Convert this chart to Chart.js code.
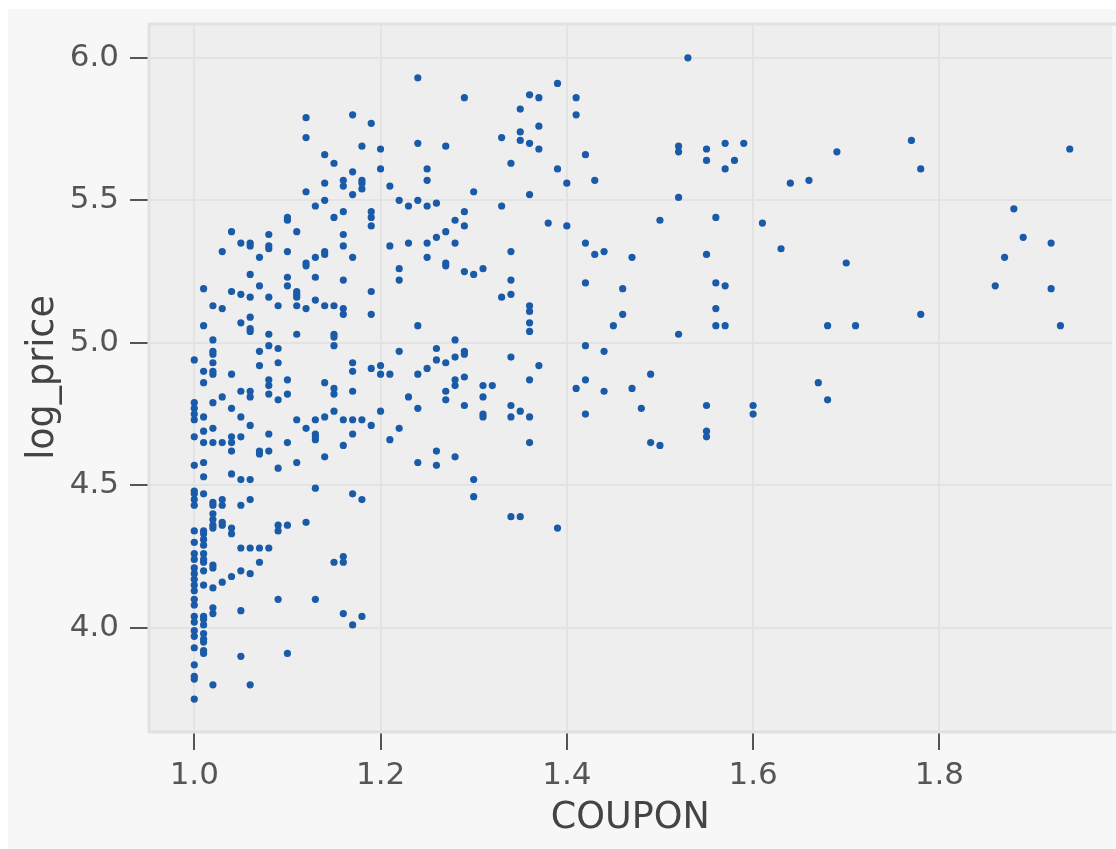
<!DOCTYPE html>
<html>
<head>
<meta charset="utf-8">
<script src="https://cdn.jsdelivr.net/npm/chart.js@4.4.0/dist/chart.umd.min.js"></script>
<style>
  html, body { margin: 0; padding: 0; background: #ffffff; }
  #frame { position: absolute; left: 8px; top: 9px; width: 1108px; height: 840px; background: #f7f7f7; }
  canvas { display: block; }
</style>
</head>
<body>
<div id="frame"><canvas id="chart" width="1108" height="840"></canvas></div>
<script>
// coupon values, and for each one the log prices
const couponValues = [
  1.00, 1.01, 1.02, 1.03, 1.04, 1.05, 1.06, 1.07, 1.08, 1.09,
  1.10, 1.11, 1.12, 1.13, 1.14, 1.15, 1.16, 1.17, 1.18, 1.19,
  1.20, 1.21, 1.22, 1.23, 1.24, 1.25, 1.26, 1.27, 1.28, 1.29,
  1.30, 1.31, 1.32, 1.33, 1.34, 1.35, 1.36, 1.37, 1.38, 1.39,
  1.40, 1.41, 1.42, 1.43, 1.44, 1.45, 1.46, 1.47, 1.48, 1.49,
  1.50, 1.52, 1.53, 1.55, 1.56, 1.57, 1.58, 1.59, 1.60, 1.61,
  1.63, 1.64, 1.66, 1.67, 1.68, 1.69, 1.70, 1.71, 1.77, 1.78,
  1.86, 1.87, 1.88, 1.89, 1.92, 1.93, 1.94
];
const logPriceByCoupon = [
  [4.94, 4.79, 4.77, 4.75, 4.73, 4.67, 4.57, 4.48, 4.47, 4.45, 4.43, 4.34, 4.30, 4.26, 4.24, 4.21, 4.19, 4.17, 4.15, 4.13, 4.10, 4.08, 4.04, 4.02, 3.99, 3.97, 3.93, 3.87, 3.83, 3.82, 3.75],
  [5.19, 5.06, 4.90, 4.86, 4.74, 4.69, 4.65, 4.58, 4.53, 4.47, 4.34, 4.33, 4.31, 4.29, 4.26, 4.24, 4.23, 4.20, 4.15, 4.04, 4.03, 4.01, 3.98, 3.96, 3.95, 3.92, 3.91],
  [5.13, 5.01, 4.97, 4.96, 4.93, 4.90, 4.89, 4.79, 4.70, 4.65, 4.44, 4.43, 4.40, 4.38, 4.36, 4.35, 4.22, 4.21, 4.14, 4.07, 4.05, 3.80],
  [5.32, 5.12, 4.81, 4.65, 4.45, 4.43, 4.37, 4.36, 4.16],
  [5.39, 5.18, 4.89, 4.77, 4.67, 4.65, 4.62, 4.54, 4.35, 4.33, 4.18],
  [5.35, 5.17, 5.07, 4.83, 4.74, 4.67, 4.52, 4.43, 4.28, 4.20, 4.06, 3.90],
  [5.35, 5.34, 5.24, 5.16, 5.09, 5.05, 5.04, 4.83, 4.81, 4.71, 4.52, 4.45, 4.28, 4.19, 3.80],
  [5.30, 5.20, 4.97, 4.92, 4.62, 4.61, 4.28, 4.23],
  [5.38, 5.34, 5.33, 5.16, 5.03, 4.99, 4.87, 4.85, 4.82, 4.68, 4.62, 4.28],
  [5.13, 4.98, 4.93, 4.80, 4.56, 4.36, 4.34, 4.10],
  [5.44, 5.43, 5.32, 5.23, 5.20, 4.87, 4.82, 4.65, 4.36, 3.91],
  [5.39, 5.18, 5.17, 5.16, 5.13, 5.03, 4.73, 4.58],
  [5.79, 5.72, 5.53, 5.28, 5.27, 5.12, 4.70, 4.37],
  [5.48, 5.30, 5.23, 5.15, 4.73, 4.68, 4.67, 4.66, 4.49, 4.10],
  [5.66, 5.56, 5.50, 5.32, 5.31, 5.13, 4.86, 4.74, 4.60],
  [5.63, 5.44, 5.13, 5.03, 5.02, 4.99, 4.84, 4.82, 4.76, 4.23],
  [5.57, 5.55, 5.46, 5.38, 5.34, 5.22, 5.12, 5.10, 4.73, 4.64, 4.25, 4.23, 4.05],
  [5.80, 5.60, 5.52, 5.30, 4.93, 4.90, 4.83, 4.73, 4.68, 4.47, 4.01],
  [5.69, 5.57, 5.56, 5.54, 4.73, 4.45, 4.04],
  [5.77, 5.46, 5.44, 5.41, 5.18, 5.10, 4.91, 4.71],
  [5.68, 5.61, 4.92, 4.89, 4.76],
  [5.55, 5.34, 4.89, 4.66],
  [5.50, 5.26, 5.22, 4.97, 4.70],
  [5.48, 5.35, 4.81],
  [5.93, 5.70, 5.50, 5.06, 4.89, 4.77, 4.58],
  [5.61, 5.57, 5.48, 5.35, 5.30, 4.91],
  [5.49, 5.37, 4.98, 4.94, 4.62, 4.57],
  [5.69, 5.39, 5.28, 5.27, 4.93, 4.83, 4.80],
  [5.43, 5.35, 5.01, 4.95, 4.87, 4.85, 4.60],
  [5.86, 5.46, 5.41, 5.25, 4.97, 4.96, 4.88, 4.78],
  [5.53, 5.24, 4.52, 4.46],
  [5.26, 4.85, 4.81, 4.75, 4.74],
  [4.85],
  [5.72, 5.48, 5.16],
  [5.63, 5.32, 5.22, 5.17, 4.95, 4.78, 4.74, 4.39],
  [5.82, 5.74, 5.71, 4.76, 4.39],
  [5.87, 5.70, 5.52, 5.13, 5.11, 5.07, 5.04, 4.87, 4.74, 4.65],
  [5.86, 5.76, 5.68, 4.92],
  [5.42],
  [5.91, 5.61, 4.35],
  [5.56, 5.41],
  [5.86, 5.80, 4.84],
  [5.66, 5.35, 5.21, 4.99, 4.87, 4.75],
  [5.57, 5.31],
  [5.32, 4.97, 4.83],
  [5.06],
  [5.19, 5.10],
  [5.30, 4.84],
  [4.77],
  [4.89, 4.65],
  [5.43, 4.64],
  [5.69, 5.67, 5.51, 5.03],
  [6.00],
  [5.68, 5.64, 5.31, 4.78, 4.69, 4.67],
  [5.44, 5.21, 5.12, 5.06],
  [5.70, 5.61, 5.20, 5.06],
  [5.64],
  [5.70],
  [4.78, 4.75],
  [5.42],
  [5.33],
  [5.56],
  [5.57],
  [4.86],
  [5.06, 4.80],
  [5.67],
  [5.28],
  [5.06],
  [5.71],
  [5.61, 5.10],
  [5.20],
  [5.30],
  [5.47],
  [5.37],
  [5.35, 5.19],
  [5.06],
  [5.68]
];
const xTicks = [1.0, 1.2, 1.4, 1.6, 1.8];
const yTicks = [4.0, 4.5, 5.0, 5.5, 6.0];
const xRange = [0.9503, 1.9858];
const yRange = [3.6344, 6.1221];

const points = [];
couponValues.forEach((c, i) => {
    logPriceByCoupon[i].forEach(p => points.push({ x: c, y: p }));
});

// grey panel behind the points, with its light frame
const plotPanel = {
    id: 'plotPanel',
    beforeDraw: chart => {
        const { ctx, chartArea: a } = chart;
        ctx.save();
        ctx.fillStyle = '#eeeeee';
        ctx.fillRect(a.left, a.top, a.right - a.left, a.bottom - a.top);
        ctx.restore();
    },
    beforeDatasetsDraw: chart => {
        const { ctx, chartArea: a } = chart;
        ctx.save();
        ctx.strokeStyle = '#e1e1e1';
        ctx.lineWidth = 3;
        ctx.strokeRect(a.left + 1, a.top + 1, a.right - a.left + 4, a.bottom - a.top - 1);
        ctx.restore();
    }
};

// no extra room for overhanging labels: the panel edges are fixed
const noPad = s => { s.paddingTop = 0; s.paddingBottom = 0; s.paddingLeft = 0; s.paddingRight = 0; };

const tickFont = { family: 'DejaVu Sans', size: 31 };
const titleFont = { family: 'DejaVu Sans', size: 36.5 };
const gridOpts = { color: '#e3e3e3', lineWidth: 2, tickColor: '#555555', tickLength: 18, tickWidth: 2 };

new Chart(document.getElementById('chart'), {
    type: 'scatter',
    data: {
        datasets: [{
            data: points,
            backgroundColor: '#1a5ba9',
            borderWidth: 0,
            pointRadius: 3.6,
            pointHoverRadius: 3.6
        }]
    },
    options: {
        responsive: false,
        animation: false,
        devicePixelRatio: 1,
        layout: { padding: { top: 14, right: 0, bottom: 0, left: 0 } },
        plugins: { legend: { display: false }, tooltip: { enabled: false } },
        scales: {
            x: {
                type: 'linear',
                min: xRange[0], max: xRange[1],
                afterBuildTicks: s => { s.ticks = xTicks.map(v => ({ value: v })); },
                afterFit: s => { s.height = 117; noPad(s); },
                grid: gridOpts,
                border: { display: false },
                ticks: { color: '#555555', font: tickFont, padding: 7, maxRotation: 0, callback: v => v.toFixed(1) },
                title: { display: true, text: 'COUPON', color: '#444444', font: titleFont, padding: { top: 0, bottom: 9 } }
            },
            y: {
                type: 'linear',
                min: yRange[0], max: yRange[1],
                afterBuildTicks: s => { s.ticks = yTicks.map(v => ({ value: v })); },
                afterFit: s => { s.width = 140; noPad(s); },
                grid: gridOpts,
                border: { display: false },
                ticks: { color: '#555555', font: tickFont, padding: 11, callback: v => v.toFixed(1) },
                title: { display: true, text: 'log_price', color: '#444444', font: titleFont, padding: { top: 14, bottom: 0 } }
            }
        }
    },
    plugins: [plotPanel]
});
</script>
</body>
</html>
